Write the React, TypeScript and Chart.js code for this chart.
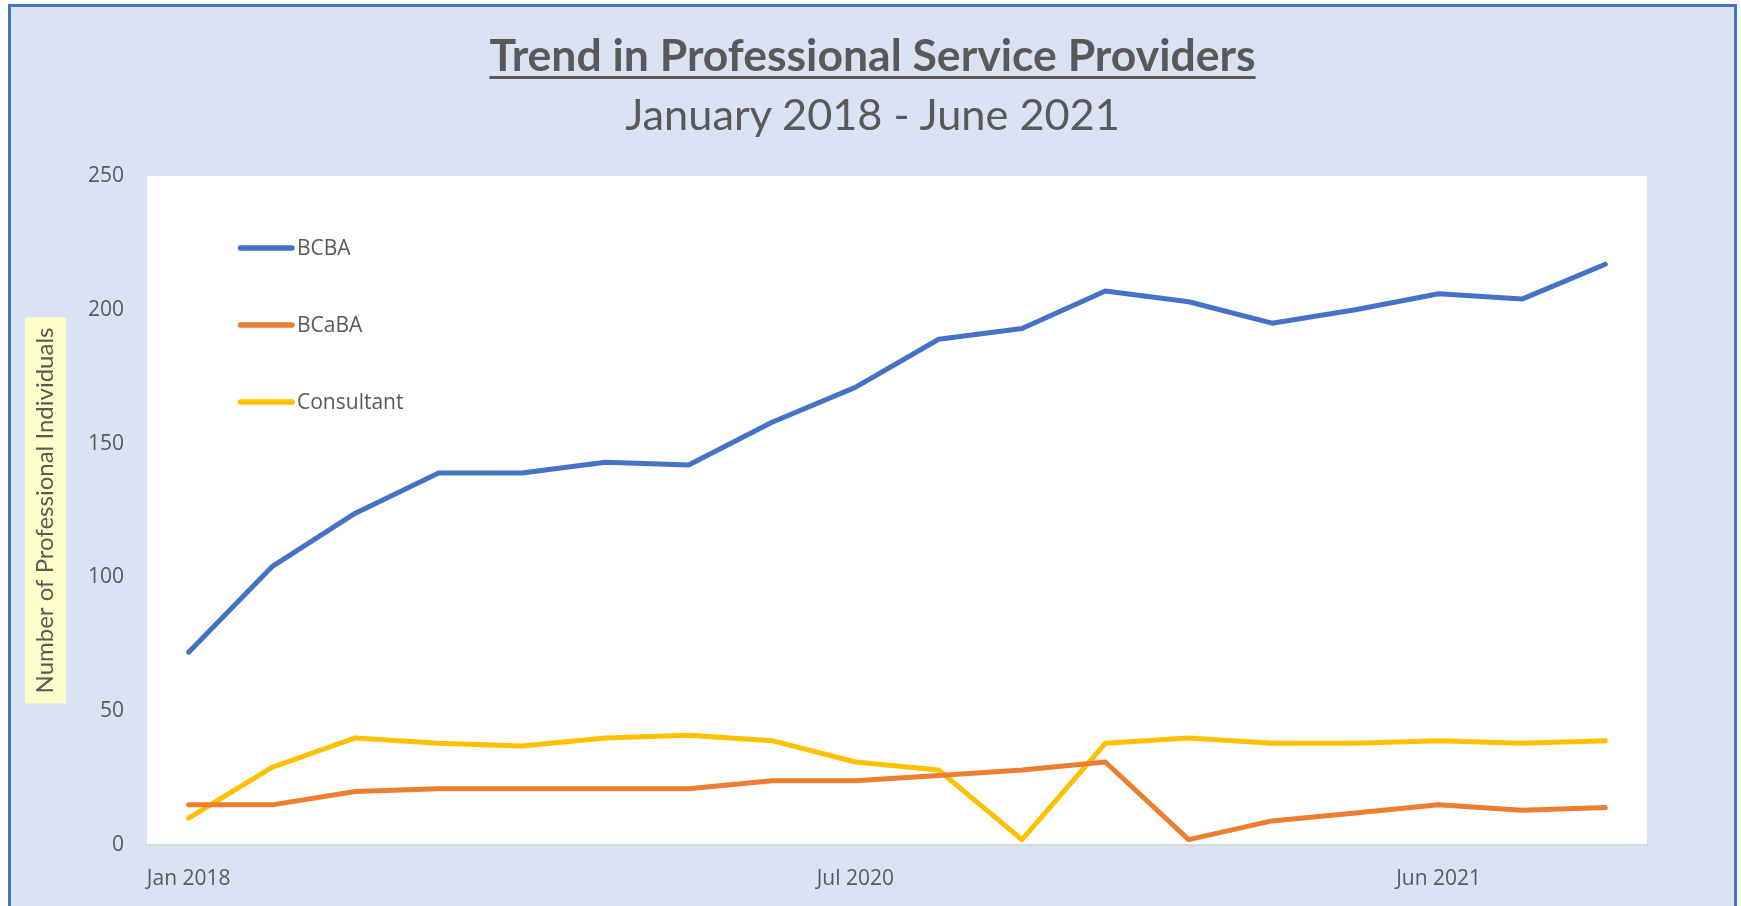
import React, { useEffect, useRef } from 'react';
import { Chart, registerables } from 'chart.js';

Chart.register(...registerables);

// ---- data ----
const categories = ['Jan 2018', '', '', '', '', '', '', '', 'Jul 2020', '', '', '', '', '', '', 'Jun 2021', '', ''];
const bcba = [72, 104, 124, 139, 139, 143, 142, 158, 171, 189, 193, 207, 203, 195, 200, 206, 204, 217];
const bcaba = [15, 15, 20, 21, 21, 21, 21, 24, 24, 26, 28, 31, 2, 9, 12, 15, 13, 14];
const consultant = [10, 29, 40, 38, 37, 40, 41, 39, 31, 28, 2, 38, 40, 38, 38, 39, 38, 39];
const seriesNames = ['BCBA', 'BCaBA', 'Consultant'];
const seriesColors = ['#4472C4', '#ED7D31', '#FFC000'];
const yMin = 0;
const yMax = 250;
const yStep = 50;
const titleText = 'Trend in Professional Service Providers';
const subtitleText = 'January 2018 - June 2021';
const yAxisTitle = 'Number of Professional Individuals';

const TEXT = '#595959';
const Y_TITLE_SIZE = 24;
const Y_TITLE_PAD = 31;

const bgPlugin = {
  id: 'bgPlugin',
  beforeDraw(chart: any) {
    const { ctx, chartArea: ca } = chart;
    ctx.save();
    ctx.fillStyle = '#FFFFFF';
    ctx.fillRect(ca.left, ca.top, ca.right - ca.left, ca.bottom - ca.top);
    const y = chart.scales.y;
    ctx.font = `${Y_TITLE_SIZE}px Lato`;
    const w = ctx.measureText(yAxisTitle).width;
    const cx = y.left + Y_TITLE_PAD + (Y_TITLE_SIZE * 1.2) / 2;
    const cy = (y.top + y.bottom) / 2;
    ctx.fillStyle = '#FFFFCC';
    ctx.fillRect(cx - 20.5, cy - w / 2 - 10, 41, w + 20);
    ctx.restore();
  },
};

const legendPlugin = {
  id: 'insideLegend',
  afterDatasetsDraw(chart: any) {
    const { ctx, chartArea: ca } = chart;
    ctx.save();
    chart.data.datasets.forEach((ds: any, i: number) => {
      const y = ca.top + 72 + i * 77;
      const x0 = ca.left + 93.5;
      const x1 = x0 + 51.5;
      ctx.strokeStyle = ds.borderColor;
      ctx.lineWidth = 5.5;
      ctx.lineCap = 'round';
      ctx.beginPath();
      ctx.moveTo(x0, y);
      ctx.lineTo(x1, y);
      ctx.stroke();
      ctx.fillStyle = TEXT;
      ctx.font = '21px "Open Sans"';
      ctx.textBaseline = 'middle';
      ctx.textAlign = 'left';
      ctx.fillText(ds.label, x1 + 5, y + 1);
    });
    ctx.restore();
  },
};

export default function App() {
  const ref = useRef<HTMLCanvasElement | null>(null);

  useEffect(() => {
    if (!ref.current) return;
    const series = [bcba, bcaba, consultant];
    const chart = new Chart(ref.current, {
      type: 'line',
      data: {
        labels: categories,
        datasets: series.map((d, i) => ({
          label: seriesNames[i],
          data: d,
          borderColor: seriesColors[i],
          backgroundColor: seriesColors[i],
          borderWidth: 5,
          pointRadius: 0,
          pointHoverRadius: 0,
          tension: 0,
          borderCapStyle: 'round' as const,
          borderJoinStyle: 'round' as const,
          fill: false,
        })),
      },
      options: {
        responsive: false,
        animation: false,
        devicePixelRatio: 1,
        layout: { padding: { top: 176, right: 94, bottom: 0, left: 0 } },
        plugins: {
          legend: { display: false },
          tooltip: { enabled: false },
          title: { display: false },
        },
        scales: {
          x: {
            type: 'category',
            offset: true,
            grid: { display: true, color: 'rgba(0,0,0,0)', drawTicks: false },
            border: { display: true, color: '#D9D9D9', width: 2 },
            ticks: {
              autoSkip: false,
              maxRotation: 0,
              minRotation: 0,
              padding: 21,
              color: TEXT,
              font: { family: 'Open Sans', size: 21 },
            },
            afterFit: (s: any) => {
              s.height = 61;
            },
          },
          y: {
            min: yMin,
            max: yMax,
            grid: { display: false, drawTicks: false },
            border: { display: false },
            ticks: {
              stepSize: yStep,
              padding: 23,
              color: TEXT,
              font: { family: 'Open Sans', size: 21 },
            },
            title: {
              display: true,
              text: yAxisTitle,
              color: TEXT,
              font: { family: 'Lato', size: Y_TITLE_SIZE },
              padding: { top: Y_TITLE_PAD, bottom: 0 },
            },
            afterFit: (s: any) => {
              s.width = 147;
            },
          },
        },
      },
      plugins: [bgPlugin, legendPlugin],
    });
    return () => chart.destroy();
  }, []);

  return (
    <div>
      <div
        style={{
          position: 'fixed',
          left: 8,
          top: 4,
          width: 1723,
          height: 960,
          background: '#DAE3F3',
          border: '3px solid #4472C4',
        }}
      />
      <div
        style={{
          position: 'fixed',
          left: 0,
          width: 1745,
          top: 32,
          textAlign: 'center',
          fontFamily: 'Lato',
          fontWeight: 700,
          fontSize: 44.5,
          lineHeight: 1,
          color: TEXT,
          textDecoration: 'underline',
          textDecorationThickness: '3px',
          textUnderlineOffset: '5px',
          whiteSpace: 'nowrap',
        }}
      >
        {titleText}
      </div>
      <div
        style={{
          position: 'fixed',
          left: 0,
          width: 1745,
          top: 91.5,
          textAlign: 'center',
          fontFamily: 'Lato',
          fontWeight: 400,
          fontSize: 43.3,
          lineHeight: 1,
          color: TEXT,
          whiteSpace: 'nowrap',
        }}
      >
        {subtitleText}
      </div>
      <canvas
        ref={ref}
        width={1741}
        height={906}
        style={{ position: 'fixed', left: 0, top: 0, width: 1741, height: 906 }}
      />
    </div>
  );
}
